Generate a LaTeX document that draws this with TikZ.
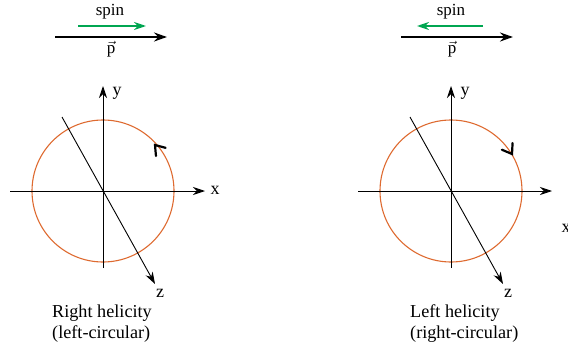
\documentclass[tikz,border=0pt]{standalone}
\usepackage{fontspec}
\setmainfont{Liberation Serif}
\usetikzlibrary{arrows.meta,calc}
\definecolor{spingreen}{RGB}{0,166,81}
\definecolor{circorange}{RGB}{222,106,48}
\tikzset{
  lbl/.style={inner sep=0pt, font=\fontsize{17}{19}\selectfont},
  axlbl/.style={inner sep=0pt, font=\fontsize{18}{20}\selectfont},
  captext/.style={inner sep=0pt, anchor=west, align=left, font=\fontsize{18.2}{21}\selectfont},
  axis/.style={line width=0.9pt, -{Stealth[length=12pt,width=8pt]}},
  momentum/.style={line width=2.4pt, -{Stealth[length=13pt,width=9pt]}},
  spinarrow/.style={spingreen, line width=1.4pt, -{Stealth[length=12pt,width=8pt]}},
  orbit/.style={circorange, line width=1.1pt},
  chev/.style={line width=2.2pt, line cap=round, line join=miter},
}
\begin{document}
\begin{tikzpicture}[x=1pt,y=1pt]
\useasboundingbox (0,0) rectangle (568,-348);

% ---------- left panel ----------
\coordinate (pL1) at (55,-37);  \coordinate (pL2) at (167,-37);
\coordinate (sL1) at (78,-26);  \coordinate (sL2) at (146,-26);
\draw[momentum] (pL1) -- (pL2);
\draw[spinarrow] (sL1) -- (sL2);
\node[lbl] (spinL) at (110,-12) {spin};
\node[lbl] (pvL) at (111,-49) {$\vec{\mbox{p}}$};

\coordinate (oL) at (103,-191);
\draw[orbit] (oL) circle[radius=71pt];
\coordinate (xL1) at (10,-191);  \coordinate (xL2) at (205,-191);
\coordinate (yL1) at (103,-268); \coordinate (yL2) at (103,-86);
\coordinate (zL1) at (62,-117);  \coordinate (zL2) at (155,-284);
\draw[axis] (xL1) -- (xL2);
\draw[axis] (yL1) -- (yL2);
\draw[axis] (zL1) -- (zL2);
\node[axlbl] (xlabL) at (215,-190) {x};
\node[axlbl] (ylabL) at (117,-93) {y};
\node[axlbl] (zlabL) at (160,-293) {z};
\coordinate (tL) at (155,-145);
\draw[chev] ($(tL)+(275:11)$) -- (tL) -- ($(tL)+(345:11)$);

\node[captext] (capL) at (52,-324) {Right helicity\\(left-circular)};

% ---------- right panel ----------
\coordinate (pR1) at (401,-37); \coordinate (pR2) at (513,-37);
\coordinate (sR1) at (483,-26); \coordinate (sR2) at (417,-26);
\draw[momentum] (pR1) -- (pR2);
\draw[spinarrow] (sR1) -- (sR2);
\node[lbl] (spinR) at (451,-12) {spin};
\node[lbl] (pvR) at (452,-49) {$\vec{\mbox{p}}$};

\coordinate (oR) at (451,-191);
\draw[orbit] (oR) circle[radius=71pt];
\coordinate (xR1) at (358,-191); \coordinate (xR2) at (552,-191);
\coordinate (yR1) at (451,-268); \coordinate (yR2) at (451,-86);
\coordinate (zR1) at (410,-117); \coordinate (zR2) at (503,-284);
\draw[axis] (xR1) -- (xR2);
\draw[axis] (yR1) -- (yR2);
\draw[axis] (zR1) -- (zR2);
\node[axlbl] (xlabR) at (566,-228) {x};
\node[axlbl] (ylabR) at (465,-93) {y};
\node[axlbl] (zlabR) at (508,-293) {z};
\coordinate (tR) at (512,-154);
\draw[chev] ($(tR)+(87:11)$) -- (tR) -- ($(tR)+(157:11)$);

\node[captext] (capR) at (410,-324) {Left helicity\\(right-circular)};
\end{tikzpicture}
\end{document}
